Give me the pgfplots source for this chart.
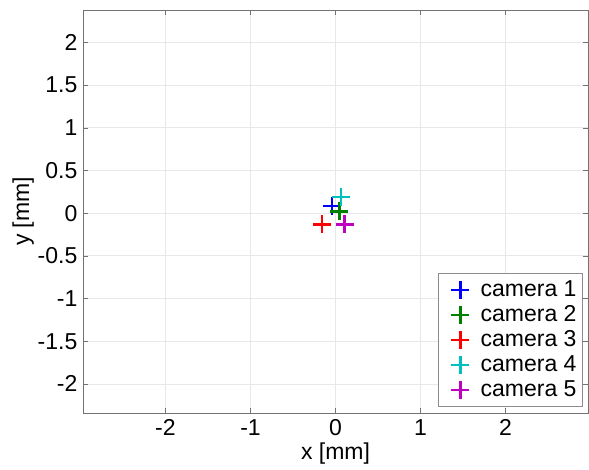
\documentclass[border=0pt]{standalone}
\usepackage{pgfplots}
\pgfplotsset{compat=1.18}
\usepackage{fontspec}
\setmainfont{Liberation Sans}
\definecolor{mgreen}{rgb}{0,0.5,0}
\definecolor{mcyan}{rgb}{0,0.75,0.75}
\definecolor{mmag}{rgb}{0.75,0,0.75}
\begin{document}
\fontsize{11.5}{13}\selectfont
\begin{tikzpicture}
\begin{axis}[
    name=ax,
    scale only axis,
    width=252.5pt,
    height=201.5pt,
    xmin=-2.97, xmax=2.97,
    ymin=-2.34, ymax=2.38,
    xtick={-2,-1,0,1,2},
    ytick={-2,-1.5,-1,-0.5,0,0.5,1,1.5,2},
    xlabel={x [mm]},
    ylabel={y [mm]},
    xlabel style={yshift=4.2pt},
    ylabel style={yshift=-6pt},
    yticklabel style={xshift=1.2pt},
    xticklabel style={yshift=0.8pt},
    grid=major,
    major grid style={gray!18},
    axis line style={black!55},
    tick style={black!55},
    tick align=inside,
    major tick length=2.5pt,
    ticklabel style={font=\fontsize{11.5}{13}\selectfont},
    label style={font=\fontsize{11.5}{13}\selectfont},
    /pgf/number format/assume math mode=true,
    legend style={at={(rel axis cs:0.99,0.015)}, anchor=south east,
        draw=black!45, font=\fontsize{11.5}{13}\selectfont,
        row sep=-1.2pt, inner xsep=1pt, inner ysep=1.5pt},
    legend cell align=left,
    legend image code/.code={%
        \path (-5pt,0pt) (12pt,0pt);
        \draw[#1] plot coordinates {(4.5pt,0pt)};},
    every axis plot/.append style={only marks, mark=+, mark size=4.5pt,
        line width=1.3pt, mark options={line width=1.3pt}},
]
\addplot[blue] coordinates {(-0.04,0.086)};
\addplot[mgreen] coordinates {(0.047,0.02)};
\addplot[red] coordinates {(-0.16,-0.13)};
\addplot[mcyan] coordinates {(0.067,0.19)};
\addplot[mmag] coordinates {(0.106,-0.13)};
\legend{camera 1,camera 2,camera 3,camera 4,camera 5}
\end{axis}
\pgfresetboundingbox
\path ([xshift=-41.5pt,yshift=-28.5pt]ax.south west) rectangle ([xshift=253pt,yshift=206.5pt]ax.south west);
\end{tikzpicture}
\end{document}
